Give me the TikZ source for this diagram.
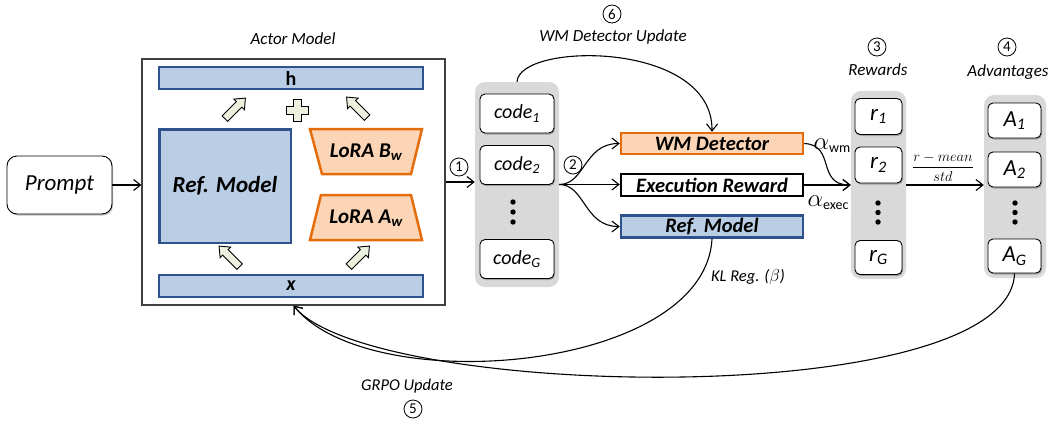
\documentclass[tikz,border=0pt]{standalone}
\usepackage{fontspec}
\setmainfont{Carlito}
\usetikzlibrary{arrows.meta,shapes.arrows,shadows}

\definecolor{bfill}{HTML}{B9CDE5}
\definecolor{bline}{HTML}{2F528F}
\definecolor{ofill}{HTML}{FBD5B5}
\definecolor{oline}{HTML}{E46C0A}
\definecolor{hfill}{HTML}{EBF1DE}
\definecolor{colgray}{HTML}{D9D9D9}
\definecolor{framegray}{HTML}{404040}

\tikzset{
  bluebox/.style={draw=bline, fill=bfill, line width=2.5pt, inner sep=0pt},
  orangeshape/.style={draw=oline, fill=ofill, line width=2.5pt, line join=miter},
  cell/.style={draw=black, fill=white, rounded corners=5pt, line width=0.9pt, inner sep=0pt,
    drop shadow={shadow xshift=1pt, shadow yshift=-1.5pt, fill=black, opacity=0.25}},
  column/.style={fill=colgray, rounded corners=10pt, inner sep=0pt},
  conn/.style={line width=1.1pt, -{Straight Barb[length=7pt,width=11pt]}},
  hollowarrow/.style={single arrow, draw=black, fill=hfill, line width=0.9pt,
    text height=0pt, text depth=0pt, text width=0pt, inner xsep=0pt, inner ysep=3.5pt,
    minimum height=29pt, single arrow head extend=3.5pt,
    single arrow tip angle=80},
  stepnum/.style={circle, draw, line width=0.8pt, minimum size=18pt, inner sep=0pt,
    font=\fontsize{15}{15}\selectfont},
  lbl/.style={font=\itshape\fontsize{17}{17}\selectfont, inner sep=0pt},
}

\begin{document}
\begin{tikzpicture}[x=1pt, y=-1pt]
\useasboundingbox (0,0) rectangle (1055,421);

% ---------- Actor model ----------
\node[lbl] (actorlbl) at (293,39) {Actor Model};
\node[draw=framegray, line width=1.2pt, minimum width=303pt, minimum height=246pt, inner sep=0pt] (actor) at (293.5,182) {};
\node[bluebox, minimum width=264pt, minimum height=22pt, font=\bfseries\fontsize{20}{20}\selectfont] (h) at (291,78) {h};
\node[bluebox, minimum width=264pt, minimum height=22pt, font=\bfseries\itshape\fontsize{20}{20}\selectfont] (x) at (291,286) {x};
\node[bluebox, minimum width=131.5pt, minimum height=113.5pt, font=\bfseries\itshape\fontsize{23}{23}\selectfont] (ref) at (225,186) {Ref. Model};

\draw[orangeshape] (310,129) -- (422,129) -- (411,174) -- (322,174) -- cycle;
\node[font=\bfseries\itshape\fontsize{21}{21}\selectfont] (lorab) at (366,152) {LoRA B\textsubscript{w}};
\draw[orangeshape] (321,195) -- (411,195) -- (422,240) -- (310,240) -- cycle;
\node[font=\bfseries\itshape\fontsize{21}{21}\selectfont] (loraa) at (366,218) {LoRA A\textsubscript{w}};

% plus sign
\draw[draw=black, fill=hfill, line width=0.9pt, shift={(297,110)}]
  (-4,-11) -- (4,-11) -- (4,-4) -- (11,-4) -- (11,4) -- (4,4) -- (4,11) -- (-4,11)
  -- (-4,4) -- (-11,4) -- (-11,-4) -- (-4,-4) -- cycle;

% hollow arrows
\node[hollowarrow, rotate=45] (ha1) at (233.5,110) {};
\node[hollowarrow, rotate=135] (ha2) at (358.5,109) {};
\node[hollowarrow, rotate=135] (ha3) at (231,258) {};
\node[hollowarrow, rotate=45] (ha4) at (357.5,258) {};

% ---------- Prompt ----------
\node[draw=black, fill=white, rounded corners=10pt, line width=0.9pt, minimum width=105pt, minimum height=58pt,
  font=\itshape\fontsize{23}{23}\selectfont,
  drop shadow={shadow xshift=1pt, shadow yshift=-1.5pt, fill=black, opacity=0.25}] (prompt) at (59.5,185) {Prompt};
\draw[conn] (prompt.east) -- (prompt.east -| actor.west);

% ---------- code column ----------
\node[column, minimum width=84pt, minimum height=205pt] (ccol) at (517,184.5) {};
\node[cell, minimum width=74pt, minimum height=39pt, font=\itshape\fontsize{20}{20}\selectfont] (c1) at (517,113.5) {code\textsubscript{1}};
\node[cell, minimum width=74pt, minimum height=39pt, font=\itshape\fontsize{20}{20}\selectfont] (c2) at (517,165) {code\textsubscript{2}};
\node[cell, minimum width=74pt, minimum height=39pt, font=\itshape\fontsize{20}{20}\selectfont] (cG) at (517,259) {code\textsubscript{G}};
\fill (513,202) circle[radius=2.7pt] (513,212) circle[radius=2.7pt] (513,222) circle[radius=2.7pt];

\node[stepnum] (s1) at (459,167) {1};
\draw[conn] (actor.east) -- (actor.east -| ccol.west);

% ---------- scorers ----------
\node[draw=oline, fill=ofill, line width=2.5pt, minimum width=182pt, minimum height=21pt, inner sep=0pt,
  font=\bfseries\itshape\fontsize{20.5}{20.5}\selectfont] (wm) at (712,143.5) {WM Detector};
\node[draw=black, fill=white, line width=2.5pt, minimum width=182pt, minimum height=22pt, inner sep=0pt,
  font=\bfseries\itshape\fontsize{20.5}{20.5}\selectfont] (exec) at (712,185) {Execution Reward};
\node[bluebox, minimum width=182pt, minimum height=22pt,
  font=\bfseries\itshape\fontsize{20.5}{20.5}\selectfont] (ref2) at (712,226.5) {Ref. Model};

\node[stepnum] (s2) at (573,165) {2};
\coordinate (split) at (ccol.east);
\draw[conn] (split) .. controls (585,184.5) and (584,143.5) .. (wm.west);
\draw[conn] (split) -- (split -| exec.west);
\draw[conn] (split) .. controls (585,184.5) and (584,226.5) .. (ref2.west);

% WM detector update
\node[stepnum] (s6) at (612,14) {6};
\node[lbl] (wmupd) at (613,37) {WM Detector Update};
\draw[conn] (ccol.north) .. controls (519,42) and (713,40) .. (wm.north);

% ---------- rewards ----------
\node[stepnum] (s3) at (877,47) {3};
\node[lbl] (rewlbl) at (878,70) {Rewards};
\node[column, minimum width=55pt, minimum height=188pt] (rcol) at (878.5,185) {};
\node[cell, minimum width=47pt, minimum height=36pt, font=\itshape\fontsize{23}{23}\selectfont] (r1) at (878.5,116.5) {r\textsubscript{1}};
\node[cell, minimum width=47pt, minimum height=36pt, font=\itshape\fontsize{23}{23}\selectfont] (r2) at (878.5,165) {r\textsubscript{2}};
\node[cell, minimum width=47pt, minimum height=34pt, font=\itshape\fontsize{23}{23}\selectfont] (rG) at (878.5,257.5) {r\textsubscript{G}};
\fill (878,203) circle[radius=2.7pt] (878,212.5) circle[radius=2.7pt] (878,222) circle[radius=2.7pt];

\draw[conn] (wm.east) .. controls (836,145) and (816,185) .. (rcol.west);
\draw[conn] (exec.east) -- (exec.east -| rcol.west);
\node[font=\fontsize{25}{25}\selectfont, inner sep=0pt] (awm) at (832,146) {$\alpha$\raisebox{-3pt}{\fontsize{14}{14}\selectfont wm}};
\node[font=\fontsize{25}{25}\selectfont, inner sep=0pt] (aexec) at (828,203) {$\alpha$\raisebox{-3pt}{\fontsize{14}{14}\selectfont exec}};

% ---------- advantages ----------
\node[stepnum] (s4) at (1007,47) {4};
\node[lbl] (advlbl) at (1008,72) {Advantages};
\node[column, minimum width=62pt, minimum height=183pt] (acol) at (1015,186.5) {};
\node[cell, minimum width=53pt, minimum height=35pt, font=\itshape\fontsize{23}{23}\selectfont] (A1) at (1014.5,120.5) {A\textsubscript{1}};
\node[cell, minimum width=53pt, minimum height=35pt, font=\itshape\fontsize{23}{23}\selectfont] (A2) at (1014.5,169.5) {A\textsubscript{2}};
\node[cell, minimum width=53pt, minimum height=34pt, font=\itshape\fontsize{23}{23}\selectfont] (AG) at (1014.5,256) {A\textsubscript{G}};
\fill (1015,203) circle[radius=2.7pt] (1015,212.5) circle[radius=2.7pt] (1015,222) circle[radius=2.7pt];

\draw[conn] (rcol.east |- 0,185) coordinate (rout) -- (rout -| acol.west);
\node[font=\fontsize{14.4}{15}\selectfont, inner sep=0pt] (frac) at (943,167) {$\displaystyle\frac{r-mean}{std}$};

% ---------- updates ----------
\node[lbl, font=\itshape\fontsize{16.5}{16.5}\selectfont] (kl) at (748,277) {KL Reg. ($\beta$)};
\draw[conn] (ref2.south) .. controls (705,372) and (370,400) .. (actor.south);
\draw[conn] (AG.south) .. controls (1010,412) and (370,400) .. (actor.south);
\node[lbl, font=\itshape\fontsize{16.5}{16.5}\selectfont] (grpo) at (407,386) {GRPO Update};
\node[stepnum] (s5) at (413,409) {5};

\end{tikzpicture}
\end{document}
